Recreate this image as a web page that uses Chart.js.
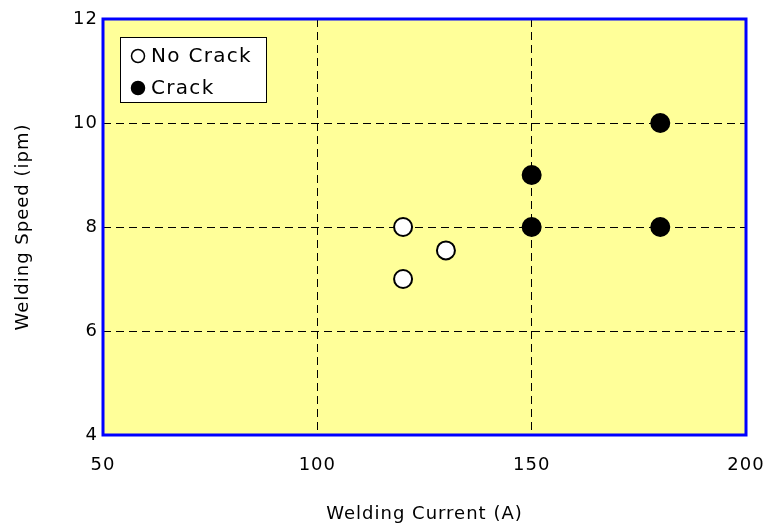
<!DOCTYPE html>
<html>
<head>
<meta charset="utf-8">
<script src="https://cdn.jsdelivr.net/npm/chart.js@4/dist/chart.umd.min.js"></script>
<style>
  html, body { margin: 0; padding: 0; background: #fff; }
  #wrap { width: 769px; height: 527px; }
</style>
</head>
<body>
<div id="wrap"><canvas id="chart-1"></canvas></div>
<script>
const noCrackCurrent = [120, 120, 130];
const noCrackSpeed = [8, 7, 7.55];
const crackCurrent = [150, 150, 180, 180];
const crackSpeed = [9, 8, 10, 8];
const seriesNames = ["No Crack", "Crack"];
const xTicks = [50, 100, 150, 200];
const yTicks = [4, 6, 8, 10, 12];

const toPoints = (xs, ys) => xs.map((x, i) => ({ x: x, y: ys[i] }));
const FONT = "DejaVu Sans";

// slightly wider text, like the original
const spacing = {
  id: "spacing",
  beforeUpdate(chart) { chart.ctx.letterSpacing = "1px"; },
  beforeDraw(chart) { chart.ctx.letterSpacing = "1px"; },
};

// yellow plot background + blue frame
const plotFrame = {
  id: "plotFrame",
  beforeDraw(chart) {
    const { ctx, chartArea: a } = chart;
    ctx.save();
    ctx.fillStyle = "#ffff99";
    ctx.fillRect(a.left, a.top, a.right - a.left, a.bottom - a.top);
    ctx.restore();
  },
  afterDatasetsDraw(chart) {
    const { ctx, chartArea: a } = chart;
    ctx.save();
    ctx.strokeStyle = "#0000ff";
    ctx.lineWidth = 3;
    ctx.strokeRect(a.left, a.top, a.right - a.left, a.bottom - a.top);
    ctx.restore();
  },
};

// boxed legend inside the plot, top-left
const innerLegend = {
  id: "innerLegend",
  afterDraw(chart) {
    const { ctx, chartArea: a } = chart;
    const x0 = a.left + 17, y0 = a.top + 18, w = 146, h = 65;
    ctx.save();
    ctx.fillStyle = "#ffffff";
    ctx.fillRect(x0, y0, w, h);
    ctx.strokeStyle = "#000000";
    ctx.lineWidth = 1;
    ctx.strokeRect(x0 + 0.5, y0 + 0.5, w, h);
    ctx.font = "20px '" + FONT + "'";
    ctx.letterSpacing = "1.3px";
    ctx.textBaseline = "middle";
    chart.data.datasets.forEach((ds, i) => {
      const cy = y0 + 19 + i * 32;
      ctx.beginPath();
      ctx.arc(x0 + 18, cy, 6.5, 0, Math.PI * 2);
      ctx.fillStyle = ds.backgroundColor;
      ctx.fill();
      ctx.lineWidth = 1.5;
      ctx.strokeStyle = "#000";
      ctx.stroke();
      ctx.fillStyle = "#000";
      ctx.fillText(ds.label, x0 + 31, cy + 1);
    });
    ctx.restore();
  },
};

const gridColor = (edges) => (c) =>
  edges.includes(c.tick.value) ? "rgba(0,0,0,0)" : "#000000";

new Chart(document.getElementById("chart-1"), {
  type: "scatter",
  data: {
    datasets: [
      {
        label: seriesNames[0],
        data: toPoints(noCrackCurrent, noCrackSpeed),
        backgroundColor: "#ffffff",
        borderColor: "#000000",
        borderWidth: 2,
        pointRadius: 9,
      },
      {
        label: seriesNames[1],
        data: toPoints(crackCurrent, crackSpeed),
        backgroundColor: "#000000",
        borderColor: "#000000",
        borderWidth: 2,
        pointRadius: 9,
      },
    ],
  },
  options: {
    responsive: true,
    maintainAspectRatio: false,
    animation: false,
    layout: { padding: { top: 19, right: 23, left: 0, bottom: 0 } },
    plugins: {
      legend: { display: false },
      tooltip: { enabled: false },
    },
    scales: {
      x: {
        type: "linear",
        min: xTicks[0],
        max: xTicks[xTicks.length - 1],
        afterBuildTicks: (s) => { s.ticks = xTicks.map((v) => ({ value: v })); },
        border: { display: false, dash: [8, 5] },
        grid: {
          color: gridColor([50, 200]),
          lineWidth: 1,
          drawTicks: false,
        },
        ticks: {
          color: "#000",
          padding: 20,
          font: { family: FONT, size: 18 },
        },
        title: {
          display: true,
          text: "Welding Current (A)",
          color: "#000",
          padding: { top: 4, bottom: 2 },
          font: { family: FONT, size: 18 },
        },
        afterFit: (s) => { s.height = 92; s.paddingLeft = 0; s.paddingRight = 0; },
      },
      y: {
        type: "linear",
        min: yTicks[0],
        max: yTicks[yTicks.length - 1],
        afterBuildTicks: (s) => { s.ticks = yTicks.map((v) => ({ value: v })); },
        border: { display: false, dash: [8, 5] },
        grid: {
          color: gridColor([4, 12]),
          lineWidth: 1,
          drawTicks: false,
        },
        ticks: {
          color: "#000",
          padding: 5,
          font: { family: FONT, size: 18 },
        },
        title: {
          display: true,
          text: "Welding Speed (ipm)",
          color: "#000",
          padding: { top: 13, bottom: 20 },
          font: { family: FONT, size: 18 },
        },
        afterFit: (s) => { s.width = 103; s.paddingTop = 0; s.paddingBottom = 0; },
      },
    },
  },
  plugins: [spacing, plotFrame, innerLegend],
});
</script>
</body>
</html>
